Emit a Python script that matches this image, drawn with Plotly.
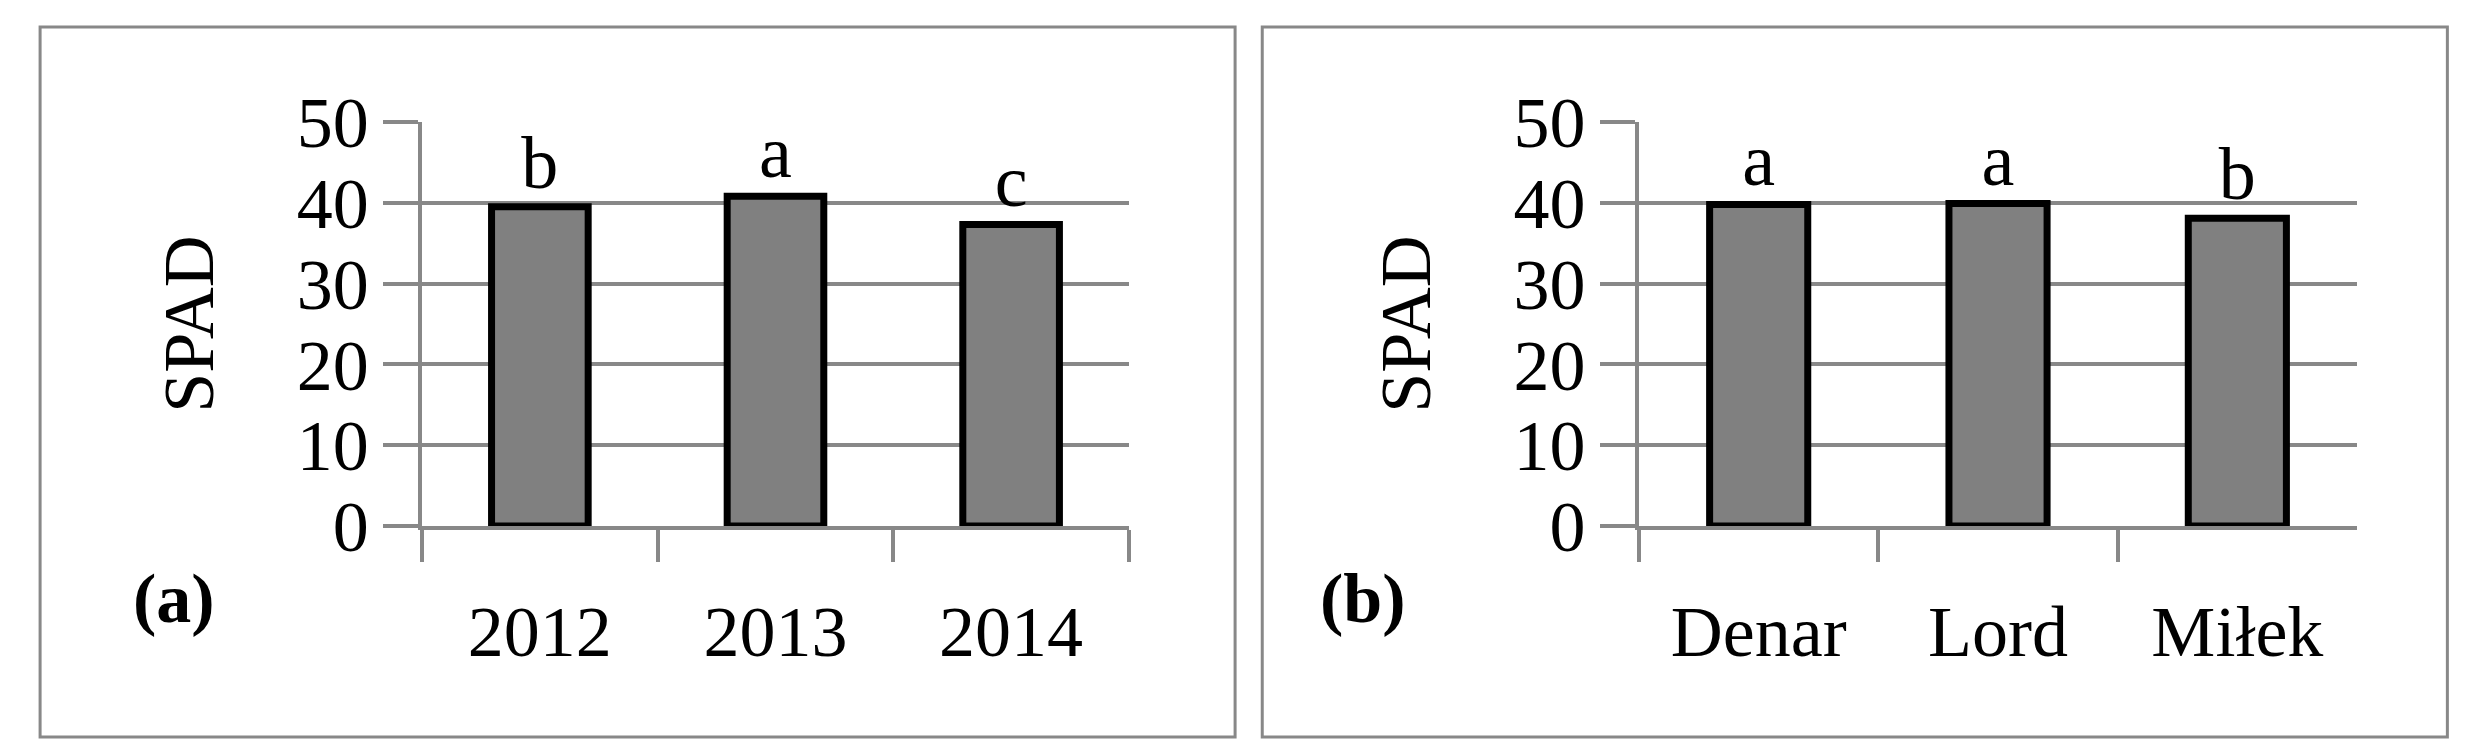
import plotly.graph_objects as go

years = ["2012", "2013", "2014"]
spad_years = [39.5, 40.8, 37.3]
letters_years = ["b", "a", "c"]

cultivars = ["Denar", "Lord", "Miłek"]
spad_cultivars = [39.8, 39.9, 38.1]
letters_cultivars = ["a", "a", "b"]

FONT = "Liberation Serif"
GRID = "#888888"

fig = go.Figure()
for xs, ys, txt, ax in [(years, spad_years, letters_years, "x"),
                        (cultivars, spad_cultivars, letters_cultivars, "x2")]:
    fig.add_trace(go.Bar(
        x=xs, y=ys, text=txt, textposition="outside",
        textfont=dict(family=FONT, size=74, color="black"),
        marker=dict(color="#808080", line=dict(color="black", width=7)),
        width=0.41, cliponaxis=False,
        xaxis=ax, yaxis=ax.replace("x", "y"),
    ))

xcommon = dict(showgrid=False, showline=True, linecolor=GRID, linewidth=4,
               ticks="outside", tickson="boundaries", ticklen=32, tickwidth=4,
               tickcolor=GRID, ticklabelstandoff=40, automargin=False,
               tickfont=dict(family=FONT, size=72, color="black"))
ycommon = dict(range=[0, 50], dtick=10, showgrid=True, gridcolor=GRID, gridwidth=4,
               showline=True, linecolor=GRID, linewidth=4, zeroline=False,
               ticks="outside", ticklen=35, tickwidth=4, tickcolor=GRID,
               automargin=False,
               tickfont=dict(family=FONT, size=72, color="black"),
               title=dict(text="SPAD", font=dict(family=FONT, size=72, color="black"),
                          standoff=60))

fig.update_layout(
    width=2469, height=755, margin=dict(l=0, r=0, t=0, b=0),
    plot_bgcolor="white", paper_bgcolor="white", showlegend=False,
    xaxis=dict(domain=[0.1677, 0.454], anchor="y", **xcommon),
    xaxis2=dict(domain=[0.6606, 0.9514], anchor="y2", **xcommon),
    yaxis=dict(domain=[0.314, 0.849], anchor="x", **ycommon),
    yaxis2=dict(domain=[0.314, 0.849], anchor="x2", **ycommon),
    shapes=[
        dict(type="rect", xref="paper", yref="paper", x0=0.013, x1=0.497,
             y0=0.0344, y1=0.975, line=dict(color=GRID, width=3)),
        dict(type="rect", xref="paper", yref="paper", x0=0.508, x1=0.988,
             y0=0.0344, y1=0.975, line=dict(color=GRID, width=3)),
    ],
    annotations=[
        dict(text="<b>(a)</b>", xref="paper", yref="paper", x=0.05, y=0.164,
             showarrow=False, font=dict(family=FONT, size=70, color="black")),
        dict(text="<b>(b)</b>", xref="paper", yref="paper", x=0.549, y=0.164,
             showarrow=False, font=dict(family=FONT, size=70, color="black")),
    ],
)

fig.write_html("out.html")
